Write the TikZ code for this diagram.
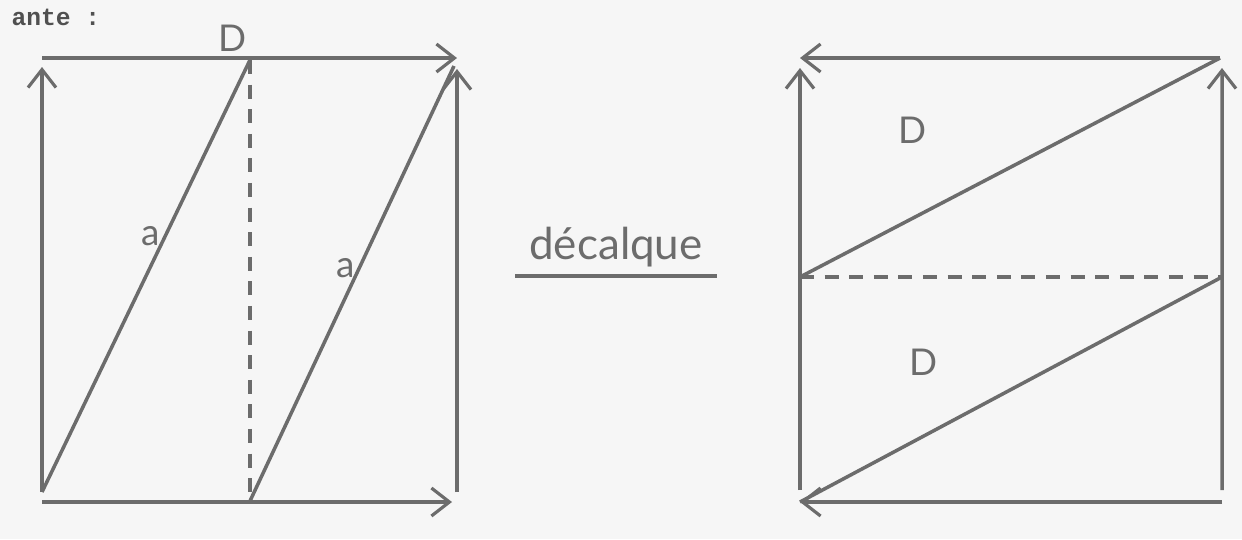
\documentclass[tikz,border=0pt]{standalone}
\usepackage{fontspec}
\setmainfont{Lato}
\newfontfamily\typewriter{Liberation Mono}
\usetikzlibrary{arrows.meta}
\definecolor{ink}{RGB}{108,108,108}
\definecolor{typed}{RGB}{80,80,80}
\definecolor{paper}{RGB}{246,246,246}

\begin{document}
\begin{tikzpicture}[x=0.02cm,y=-0.02cm,line width=2pt,draw=ink,text=ink,
  >={Straight Barb[length=3.6mm,width=5.6mm,line width=1.8pt]},
  cut/.style={dash pattern=on 8pt off 6pt},
  lab/.style={font=\fontsize{21}{21}\selectfont}]
\fill[paper] (0,0) rectangle (1242,539);
\useasboundingbox (0,0) rectangle (1242,539);
\node[anchor=west,text=typed,font=\typewriter\bfseries\fontsize{14}{14}\selectfont] (head) at (4,17) {ante :};
% premier rectangle
\coordinate (A1) at (42,492);
\coordinate (A2) at (42,58);
\coordinate (A3) at (457,58);
\coordinate (A4) at (457,492);
\coordinate (B1) at (42,502);
\coordinate (B2) at (452,502);
\coordinate (M1) at (250,60);
\coordinate (M2) at (250,501);
\draw[->] (A2) -- (A3);
\draw[->] (A1) -- ([yshift=-0.18cm]A2);
\draw[->] (A4) -- ([yshift=-0.22cm]A3);
\draw[->] (B1) -- (B2);
\draw (A1) -- (M1);
\draw (M2) -- ([shift={(-3,8)}]A3);
\draw[cut] (M1) -- (M2);
\node[lab] (d1) at (233,38) {D};
\node[lab] (a1) at (151,236) {a};
\node[lab] (a2) at (346,268) {a};
% decalque
\node[font=\fontsize{25}{25}\selectfont,inner xsep=7pt,inner ysep=4pt] (dec) at (616,247) {décalque};
\draw[line width=2.2pt] (dec.south west) -- (dec.south east);
% second rectangle
\coordinate (C1) at (800,490);
\coordinate (C2) at (800,58);
\coordinate (C3) at (1220,58);
\coordinate (C4) at (1222,490);
\coordinate (E1) at (800,502);
\coordinate (E2) at (1222,502);
\coordinate (N1) at (800,277);
\coordinate (N2) at (1222,277);
\draw[->] (C3) -- (C2);
\draw[->] (C1) -- ([yshift=-0.2cm]C2);
\draw[->] (C4) -- ([yshift=-0.2cm,xshift=0.04cm]C3);
\draw[->] (E2) -- (E1);
\draw (N1) -- (C3);
\draw (N2) -- (E1);
\draw[cut] (N1) -- (N2);
\node[lab] (d2) at (913,130) {D};
\node[lab] (d3) at (924,362) {D};
\end{tikzpicture}
\end{document}
